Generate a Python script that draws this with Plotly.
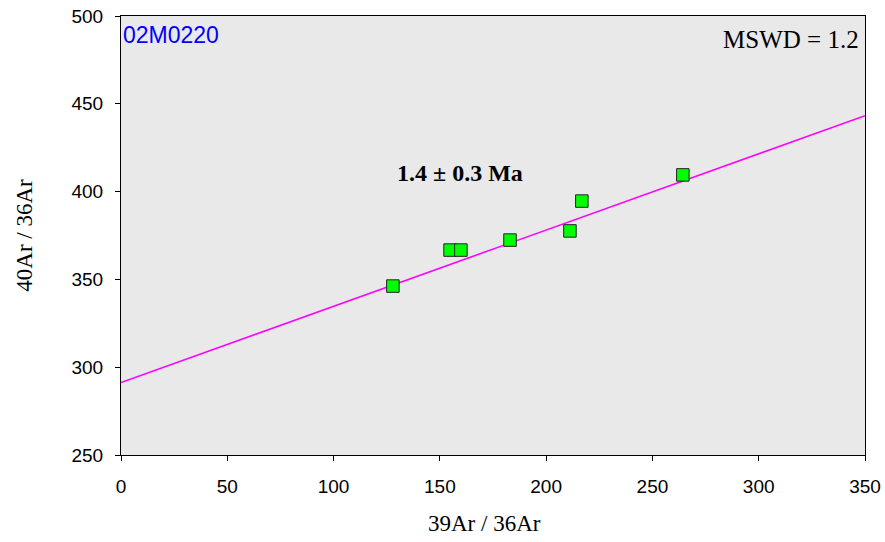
import plotly.graph_objects as go

# Data
ratio39_36 = [127.9, 154.8, 159.9, 183.0, 211.2, 216.8, 264.3]
ratio40_36 = [346.2, 366.7, 366.7, 372.4, 377.6, 394.6, 409.5]
fit_intercept = 291.3
fit_slope = 0.434
fit_x = [0, 350]
fit_y = [fit_intercept + fit_slope * x for x in fit_x]

x_ticks = [0, 50, 100, 150, 200, 250, 300, 350]
y_ticks = [250, 300, 350, 400, 450, 500]

fig = go.Figure()
fig.add_trace(go.Scatter(x=fit_x, y=fit_y, mode="lines",
                         line=dict(color="#ff00ff", width=1.6),
                         showlegend=False, hoverinfo="skip"))
fig.add_trace(go.Scatter(x=ratio39_36, y=ratio40_36, mode="markers",
                         marker=dict(symbol="square", size=12.5, color="#00ff00",
                                     line=dict(color="#222222", width=1)),
                         showlegend=False))

axis_common = dict(showgrid=False, zeroline=False, showline=True, linecolor="black",
                   linewidth=1, mirror=True, ticks="outside", ticklen=5, automargin=False,
                   tickcolor="black", tickfont=dict(family="Arial, Liberation Sans", size=19, color="black"))

serif = "Liberation Serif, Times New Roman"

fig.update_layout(
    width=885, height=542,
    margin=dict(l=121, r=20, t=16, b=87),
    paper_bgcolor="white", plot_bgcolor="#e9e9e9",
    xaxis=dict(range=[0, 350], tickvals=x_ticks, ticklabelstandoff=9, **axis_common),
    yaxis=dict(range=[250, 500], tickvals=y_ticks, ticklabelstandoff=8,
               title=dict(text="40Ar / 36Ar", standoff=32,
                          font=dict(family=serif, size=23, color="black")),
               **axis_common),
    annotations=[
        dict(x=0.488, y=-0.155, xref="paper", yref="paper", xanchor="center", yanchor="middle",
             text="39Ar / 36Ar", showarrow=False,
             font=dict(family=serif, size=23, color="black")),
        dict(x=0.0, y=0.99, xref="paper", yref="paper", xanchor="left", yanchor="top",
             text="02M0220", showarrow=False,
             font=dict(family="Arial, Liberation Sans", size=23, color="#0000ff")),
        dict(x=0.995, y=0.982, xref="paper", yref="paper", xanchor="right", yanchor="top",
             text="MSWD = 1.2", showarrow=False,
             font=dict(family=serif, size=25, color="black")),
        dict(x=159.5, y=410.5, xref="x", yref="y", xanchor="center", yanchor="middle",
             text="<b>1.4 ± 0.3 Ma</b>", showarrow=False,
             font=dict(family=serif, size=24, color="black")),
    ],
)

fig.write_html("out.html", config={"displayModeBar": False},
               post_script="document.body.style.margin='0';document.body.style.overflow='hidden';")
